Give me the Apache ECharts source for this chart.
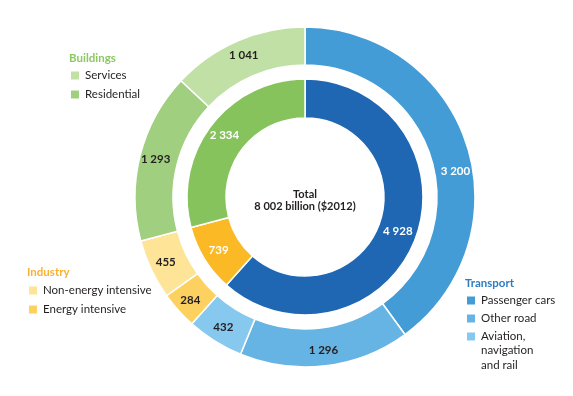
<!DOCTYPE html>
<html>
<head>
<meta charset="utf-8">
<script src="https://cdn.jsdelivr.net/npm/echarts@6/dist/echarts.min.js"></script>
<style>
  html, body { margin: 0; padding: 0; background: #fff; }
  #main { width: 573px; height: 396px; }
</style>
</head>
<body>
<div id="main"></div>
<script>
// inner ring: sectors
const sectorNames = ['Transport', 'Industry', 'Buildings'];
const sectorValues = [4928, 739, 2334];

// outer ring: sub-sectors, same order round the ring (clockwise from top)
const subNames = ['Passenger cars', 'Other road', 'Aviation, navigation and rail',
  'Energy intensive', 'Non-energy intensive', 'Residential', 'Services'];
const subValues = [3200, 1296, 432, 284, 455, 1293, 1041];

const totalText = ['Total', '8 002 billion ($2012)'];

// colours
const sectorColors = ['#1f67b2', '#fbb925', '#86c35c'];
const subColors = ['#449cd6', '#66b4e3', '#87c8ef', '#fdd15f', '#fde497', '#a0cf80', '#c0e0a6'];
const subLabelColors = ['#fff', '#231f20', '#231f20', '#231f20', '#231f20', '#231f20', '#231f20'];

const FONT = 'Lato, "Liberation Sans", sans-serif';
const fmt = v => String(v).replace(/\B(?=(\d{3})+(?!\d))/g, ' ');

window.addEventListener('load', function () {
    let chart = echarts.init(document.getElementById('main'), null, {renderer: 'canvas'});

    let legendBase = {
        orient: 'vertical',
        icon: 'rect',
        itemWidth: 10,
        itemHeight: 10,
        selectedMode: false,
        padding: 0,
        textStyle: {fontFamily: FONT, fontSize: 11.5, color: '#231f20', lineHeight: 15}
    };

    let option = {
        backgroundColor: '#fff',
        animation: false,
        title: [
            {text: 'Buildings', left: 69, top: 52, padding: 0,
             textStyle: {fontFamily: FONT, fontSize: 11.5, fontWeight: 'bold', color: '#8cc864'}},
            {text: 'Industry', left: 27, top: 266, padding: 0,
             textStyle: {fontFamily: FONT, fontSize: 11.5, fontWeight: 'bold', color: '#f9b233'}},
            {text: 'Transport', left: 465, top: 277, padding: 0,
             textStyle: {fontFamily: FONT, fontSize: 11.5, fontWeight: 'bold', color: '#2e7cc4'}},
            {text: totalText.join('\n'), left: 305, top: 188, padding: 0, textAlign: 'center',
             textStyle: {fontFamily: FONT, fontSize: 11, fontWeight: 'bold', color: '#231f20', lineHeight: 12}}
        ],
        legend: [
            Object.assign({}, legendBase, {left: 69, top: 68, itemGap: 4, data: ['Services', 'Residential']}),
            Object.assign({}, legendBase, {left: 27, top: 283, itemGap: 4, data: ['Non-energy intensive', 'Energy intensive']}),
            Object.assign({}, legendBase, {left: 465, top: 293, itemGap: 3,
                data: ['Passenger cars', 'Other road', 'Aviation, navigation and rail'],
                formatter: n => n.indexOf('Aviation') === 0 ? 'Aviation,' : n})
        ],
        graphic: [{
            type: 'text', left: 481, top: 343,
            style: {text: 'navigation\nand rail', font: '11.5px ' + FONT, fill: '#231f20', lineHeight: 15}
        }],
        series: [
            {
                type: 'pie',
                center: [305, 197],
                radius: [79, 118],
                startAngle: 90,
                clockwise: true,
                silent: true,
                itemStyle: {borderColor: '#fff', borderWidth: 1.5},
                label: {position: 'inside', fontFamily: FONT, fontSize: 11.5, fontWeight: 'bold', color: '#fff',
                    formatter: p => fmt(p.value)},
                labelLine: {show: false},
                labelLayout: p => p.dataIndex === 0 ? {dx: -2, dy: -2} : {},
                data: sectorNames.map((n, i) => ({name: n, value: sectorValues[i], itemStyle: {color: sectorColors[i]}}))
            },
            {
                type: 'pie',
                center: [305, 197],
                radius: [132, 170],
                startAngle: 90,
                clockwise: true,
                silent: true,
                itemStyle: {borderColor: '#fff', borderWidth: 1.5},
                label: {position: 'inside', fontFamily: FONT, fontSize: 11.5, fontWeight: 'bold',
                    formatter: p => fmt(p.value)},
                labelLine: {show: false},
                // the source nudges the big passenger-car label down the arc
                labelLayout: p => p.dataIndex === 0 ? {dx: 4, dy: 22} : {},
                data: subNames.map((n, i) => ({name: n, value: subValues[i],
                    itemStyle: {color: subColors[i]}, label: {color: subLabelColors[i]}}))
            }
        ]
    };

    chart.setOption(option);
}, false);
</script>
</body>
</html>
